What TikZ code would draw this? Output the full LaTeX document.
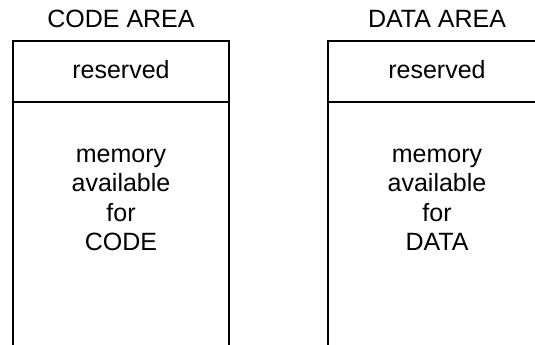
\documentclass[tikz,border=0pt]{standalone}
\usepackage{fontspec}
\setmainfont{Liberation Sans}
\begin{document}
\begin{tikzpicture}[x=1pt,y=-1pt,
  boxline/.style={draw=black,line width=1.6pt},
  lbl/.style={anchor=base,inner sep=0pt,font=\fontsize{25}{29}\selectfont}]
\useasboundingbox (0,0) rectangle (535,345);
\clip (0,0) rectangle (535,345);
% code area
\draw[boxline] (13,360) -- (13,41) -- (229,41) -- (229,360);
\draw[boxline] (13,102) -- (229,102);
% data area
\draw[boxline] (328,360) -- (328,41) -- (546,41) -- (546,360);
\draw[boxline] (328,102) -- (546,102);
% labels
\node[lbl] (ct) at (121,28) {CODE AREA};
\node[lbl] (cr) at (121,78) {reserved};
\node[lbl] (c1) at (121,162) {memory};
\node[lbl] (c2) at (121,191) {available};
\node[lbl] (c3) at (121,221) {for};
\node[lbl] (c4) at (121,250) {CODE};
\node[lbl] (dt) at (437,28) {DATA AREA};
\node[lbl] (dr) at (437,78) {reserved};
\node[lbl] (d1) at (437,162) {memory};
\node[lbl] (d2) at (437,191) {available};
\node[lbl] (d3) at (437,221) {for};
\node[lbl] (d4) at (437,250) {DATA};
\end{tikzpicture}
\end{document}
